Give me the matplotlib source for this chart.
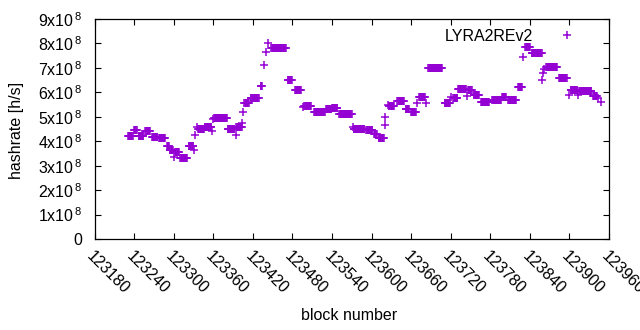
#!/usr/bin/env python3
# -*- coding: utf-8 -*-

import numpy
import matplotlib
matplotlib.use('agg')
import matplotlib.pyplot as plt

# hashrate runs: first block, last block, hashrate [1e8 h/s]
seg_start = [123231, 123240, 123247, 123257, 123267, 123278, 123290, 123294, 123300,
             123302, 123310, 123323, 123331, 123332, 123335, 123337, 123347, 123358,
             123359, 123361, 123382, 123394, 123395, 123404, 123405, 123407, 123417,
             123432, 123437, 123440, 123443, 123448, 123473, 123484, 123496, 123498,
             123513, 123531, 123540, 123551, 123572, 123573, 123592, 123604, 123611,
             123620, 123621, 123625, 123626, 123639, 123652, 123660, 123669, 123672,
             123683, 123686, 123711, 123720, 123724, 123731, 123745, 123746, 123755,
             123766, 123783, 123798, 123807, 123822, 123830, 123833, 123843, 123859,
             123860, 123862, 123865, 123884, 123899, 123902, 123913, 123915, 123936,
             123944, 123948]
seg_end = [123238, 123244, 123254, 123264, 123275, 123287, 123293, 123299, 123300,
           123308, 123320, 123330, 123331, 123332, 123335, 123346, 123357, 123358,
           123359, 123381, 123392, 123394, 123403, 123404, 123405, 123414, 123429,
           123434, 123437, 123440, 123443, 123470, 123479, 123493, 123496, 123508,
           123529, 123539, 123548, 123570, 123572, 123589, 123601, 123608, 123619,
           123620, 123621, 123625, 123634, 123649, 123657, 123667, 123669, 123681,
           123683, 123707, 123719, 123720, 123730, 123743, 123745, 123752, 123763,
           123778, 123796, 123804, 123819, 123828, 123830, 123840, 123858, 123859,
           123860, 123862, 123881, 123896, 123899, 123912, 123913, 123933, 123942,
           123944, 123948]
seg_rate = [4.20, 4.45, 4.20, 4.40, 4.17, 4.12, 3.80, 3.65, 3.35,
            3.55, 3.30, 3.80, 3.65, 4.25, 4.60, 4.50, 4.60, 4.40,
            4.90, 4.97, 4.50, 4.25, 4.60, 4.75, 5.20, 5.55, 5.75,
            6.25, 7.10, 7.65, 8.00, 7.80, 6.50, 6.10, 5.40, 5.45,
            5.20, 5.30, 5.35, 5.10, 4.60, 4.50, 4.45, 4.30, 4.15,
            4.65, 5.00, 5.50, 5.45, 5.65, 5.30, 5.20, 5.55, 5.80,
            5.55, 7.00, 5.55, 5.80, 5.75, 6.15, 5.85, 6.10, 5.90,
            5.62, 5.70, 5.80, 5.70, 6.22, 7.45, 7.87, 7.60, 6.50,
            6.80, 6.95, 7.05, 6.60, 5.90, 6.10, 5.90, 6.05, 5.87,
            5.75, 5.60]

xticks = list(range(123180, 123961, 60))
yticks = [n * 1e8 for n in range(10)]
ylabels = ['0'] + ['$\\mathregular{%dx10^{\\,8}}$' % n for n in range(1, 10)]

color = '#9400d3'


def plot_hashrate():
    blocks = []
    rates = []
    for s, e, r in zip(seg_start, seg_end, seg_rate):
        for b in range(s, e + 1):
            blocks.append(b)
            rates.append(r * 1e8)

    fig = plt.figure(figsize=(6.4, 3.3), dpi=100)
    ax = fig.add_axes([94.5 / 640, 1 - 239 / 330, 514.5 / 640, 220 / 330])

    ax.plot(blocks, rates, linestyle='none', marker='+', color=color,
            markersize=5.5, markeredgewidth=1.1, label='LYRA2REv2')

    ax.set_xlim(123180, 123960)
    ax.set_ylim(0, 9e8)
    ax.set_xticks(xticks)
    ax.set_xticklabels([str(x) for x in xticks], rotation=-45,
                       ha='left', va='top', rotation_mode='anchor')
    ax.set_yticks(yticks)
    ax.set_yticklabels(ylabels)

    ax.tick_params(direction='in', length=4.5, width=0.8, top=True, right=True,
                   labelsize=11.5, colors='black')
    ax.tick_params(axis='x', pad=7)
    ax.tick_params(axis='y', pad=9)
    for sp in ax.spines.values():
        sp.set_linewidth(0.9)

    # the last tick label runs off the right side, as in the original
    for lbl in ax.get_xticklabels():
        lbl.set_clip_on(False)

    fig.text(17 / 640, 1 - 130 / 330, 'hashrate [h/s]', rotation=90,
             ha='center', va='center', fontsize=11.5)
    fig.text(349 / 640, 1 - 315 / 330, 'block number',
             ha='center', va='center', fontsize=11.5)

    ax.legend(loc='upper right', bbox_to_anchor=(1 - 20 / 514.5, 1.0),
              markerfirst=False, frameon=False, numpoints=1,
              handlelength=1.5, handletextpad=1.4, borderaxespad=0.2,
              fontsize=11.5)

    fig.savefig('out.png', dpi=100)


if __name__ == '__main__':
    plt.rcParams['font.family'] = ['Liberation Sans', 'DejaVu Sans']
    plt.rcParams['mathtext.fontset'] = 'custom'
    plt.rcParams['mathtext.rm'] = 'Liberation Sans'
    plot_hashrate()
